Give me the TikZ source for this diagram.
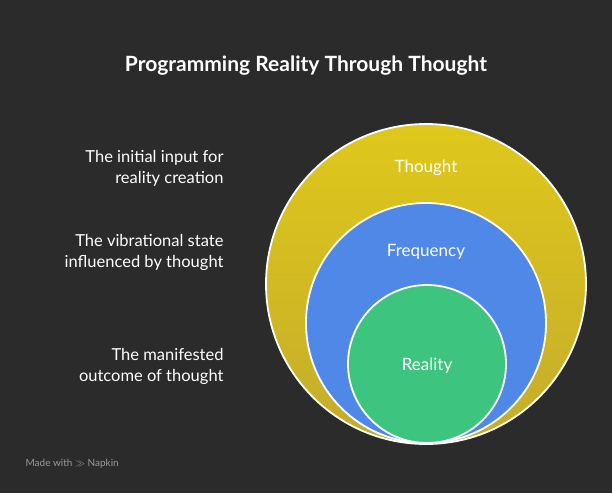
\documentclass[tikz,border=0pt]{standalone}
\usepackage{fontspec}
\setmainfont{Lato}
\begin{document}
\begin{tikzpicture}[x=1pt,y=-1pt,
  ring/.style={draw=white,line width=1.8pt},
  lbl/.style={text=white,font=\fontsize{17}{20}\selectfont},
  side/.style={text=white,font=\fontsize{16.5}{21}\selectfont,align=right,anchor=east}]
\definecolor{bg}{HTML}{2B2B2B}
\definecolor{yelTop}{HTML}{DFC81A}
\definecolor{yelBot}{HTML}{C4AC2C}
\definecolor{blu}{HTML}{4F88E6}
\definecolor{grn}{HTML}{3DC47E}
\fill[bg] (0,0) rectangle (612,493);
\useasboundingbox (0,0) rectangle (612,493);
\node[text=white,font=\bfseries\fontsize{21}{24}\selectfont] (title) at (306,66) {Programming Reality Through Thought};
\shade[top color=yelTop,bottom color=yelBot] (426,284) circle (160);
\draw[ring] (426,284) circle (160);
\node[circle,ring,fill=blu,minimum size=240] (freq) at (426,323) {};
\node[circle,ring,fill=grn,minimum size=158] (real) at (427,364) {};
\node[lbl] (t) at (426,168) {Thought};
\node[lbl] (f) at (426,252) {Frequency};
\node[lbl] (r) at (427,366) {Reality};
\node[side] (s1) at (227,168) {The initial input for\\reality creation};
\node[side] (s2) at (227,252) {The vibrational state\\influenced by thought};
\node[side] (s3) at (227,366) {The manifested\\outcome of thought};
\node[text=gray!80,font=\fontsize{10}{12}\selectfont,anchor=west] (wm) at (22,464) {Made with \textbf{$\gg$} Napkin};
\end{tikzpicture}
\end{document}
